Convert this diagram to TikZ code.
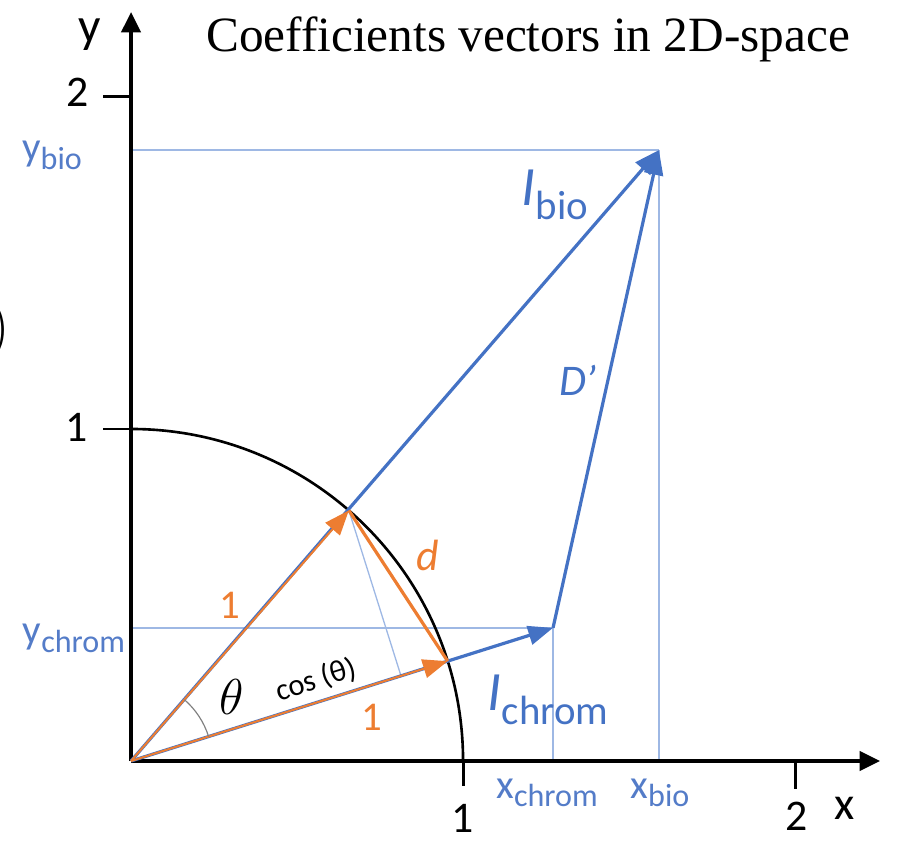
\documentclass[tikz,border=0pt]{standalone}
\usepackage{fontspec}
\setmainfont{Carlito}
\newfontfamily\titlefont{Liberation Serif}
\usetikzlibrary{arrows.meta,calc}
\definecolor{vecblue}{RGB}{68,114,196}
\definecolor{vecorange}{RGB}{237,125,49}
\definecolor{guideblue}{RGB}{158,184,228}
\definecolor{labelblue}{RGB}{84,124,200}
\newcommand{\csub}[1]{\raisebox{-0.45ex}{\fontsize{11}{13}\selectfont #1}}
\newcommand{\vsub}[1]{\raisebox{-0.55ex}{\fontsize{14}{16}\selectfont #1}}

\begin{document}
\begin{tikzpicture}[x=4cm,y=4cm,>={Triangle[length=8.5pt,width=6.5pt]}]
    \useasboundingbox (-0.3946,-0.238) rectangle (2.307,2.292);

    % Points
    \coordinate (O) at (0,0);
    \coordinate (xend) at (2.256,0);
    \coordinate (yend) at (0,2.256);
    \coordinate (ubio) at (49:1);
    \coordinate (uchrom) at (17.5:1);
    \coordinate (Ibio) at (1.59,1.84);
    \coordinate (Ichrom) at (1.271,0.401);
    \coordinate (foot) at ($(O)!(ubio)!(uchrom)$);

    % Guide lines
    \draw[guideblue,line width=0.45pt] (Ibio) -- (Ibio -| O);
    \draw[guideblue,line width=0.45pt] (Ibio) -- (Ibio |- O);
    \draw[guideblue,line width=0.45pt] (Ichrom) -- (Ichrom -| O);
    \draw[guideblue,line width=0.45pt] (Ichrom) -- (Ichrom |- O);
    \draw[guideblue,line width=0.45pt] (ubio) -- (foot);

    % Axes
    \draw[line width=1.4pt,-{Triangle[length=7pt,width=6.5pt]}] (O) -- (xend);
    \draw[line width=1.4pt,-{Triangle[length=7pt,width=6.5pt]}] (O) -- (yend);
    \draw[line width=1pt] (0,1) -- (-0.084,1);
    \draw[line width=1pt] (0,2) -- (-0.084,2);
    \draw[line width=1pt] (1,0) -- (1,-0.075);
    \draw[line width=1pt] (2,0) -- (2,-0.085);

    % Unit circle
    \draw[line width=0.9pt] (0,1) arc[start angle=90,end angle=0,radius=1];

    % Coefficient vectors
    \draw[vecblue,line width=1.1pt,->] (O) -- (Ibio);
    \draw[vecblue,line width=1.1pt,->] (O) -- (Ichrom);
    \draw[vecblue,line width=1.1pt,->] (Ichrom) -- (Ibio);

    % Unit vectors and distance
    \draw[vecorange,line width=0.7pt,->,xshift=0.4pt,yshift=-0.4pt] (O) -- (ubio);
    \draw[vecorange,line width=0.7pt,->,xshift=0.3pt,yshift=-0.5pt] (O) -- (uchrom);
    \draw[vecorange,line width=1.1pt] (ubio) -- (uchrom);

    % Angle
    \draw[gray,line width=0.4pt] (17.5:0.245) arc[start angle=17.5,end angle=49,radius=0.245];

    % Axis labels
    \node[font=\fontsize{17}{20}\selectfont,inner sep=1pt] (ylab) at (-0.123,2.187) {y};
    \node[font=\fontsize{16}{19}\selectfont,inner sep=1pt] (xlab) at (2.15,-0.142) {x};
    \node[font=\fontsize{15}{18}\selectfont,inner sep=1pt] (y1) at (-0.163,1.006) {1};
    \node[font=\fontsize{15}{18}\selectfont,inner sep=1pt] (y2) at (-0.16,2.015) {2};
    \node[font=\fontsize{15}{18}\selectfont,inner sep=1pt] (x1) at (1.0,-0.172) {1};
    \node[font=\fontsize{15}{18}\selectfont,inner sep=0pt] (x2) at (2.006,-0.168) {2};

    % Coordinate labels
    \node[labelblue,font=\fontsize{14}{16}\selectfont] (ybio) at (-0.238,1.825) {y\csub{bio}};
    \node[labelblue,font=\fontsize{14}{16}\selectfont] (ychrom) at (-0.172,0.37) {y\csub{chrom}};
    \node[labelblue,font=\fontsize{14}{16}\selectfont] (xchrom) at (1.253,-0.096) {x\csub{chrom}};
    \node[labelblue,font=\fontsize{14}{16}\selectfont] (xbio) at (1.593,-0.096) {x\csub{bio}};

    % Vector labels
    \node[vecblue,font=\fontsize{19}{22}\selectfont] (lbio) at (1.277,1.705) {\textit{I}\vsub{bio}};
    \node[vecblue,font=\fontsize{19}{22}\selectfont] (lchrom) at (1.256,0.184) {\textit{I}\vsub{chrom}};
    \node[vecblue,font=\fontsize{15}{18}\selectfont\itshape] (ldist) at (1.346,1.148) {D’};
    \node[vecorange,font=\fontsize{14}{17}\selectfont] (lone1) at (0.298,0.47) {1};
    \node[vecorange,font=\fontsize{14}{17}\selectfont] (lone2) at (0.726,0.133) {1};
    \node[vecorange,font=\fontsize{15}{18}\selectfont\itshape] (ld) at (0.895,0.62) {d};
    \node[font=\fontsize{16}{18}\selectfont] (ltheta) at (0.304,0.193) {$\theta$};
    \node[font=\fontsize{10.5}{12}\selectfont,rotate=17.5] (lcos) at (0.557,0.244) {cos (θ)};

    % Title
    \node[font=\titlefont\fontsize{16.9}{20}\selectfont] (title) at (1.196,2.172) {Coefficients vectors in 2D-space};
    \node[font=\fontsize{22}{24}\selectfont,anchor=east,inner sep=0pt] (paren) at (-0.364,1.298) {$)$};
\end{tikzpicture}
\end{document}
